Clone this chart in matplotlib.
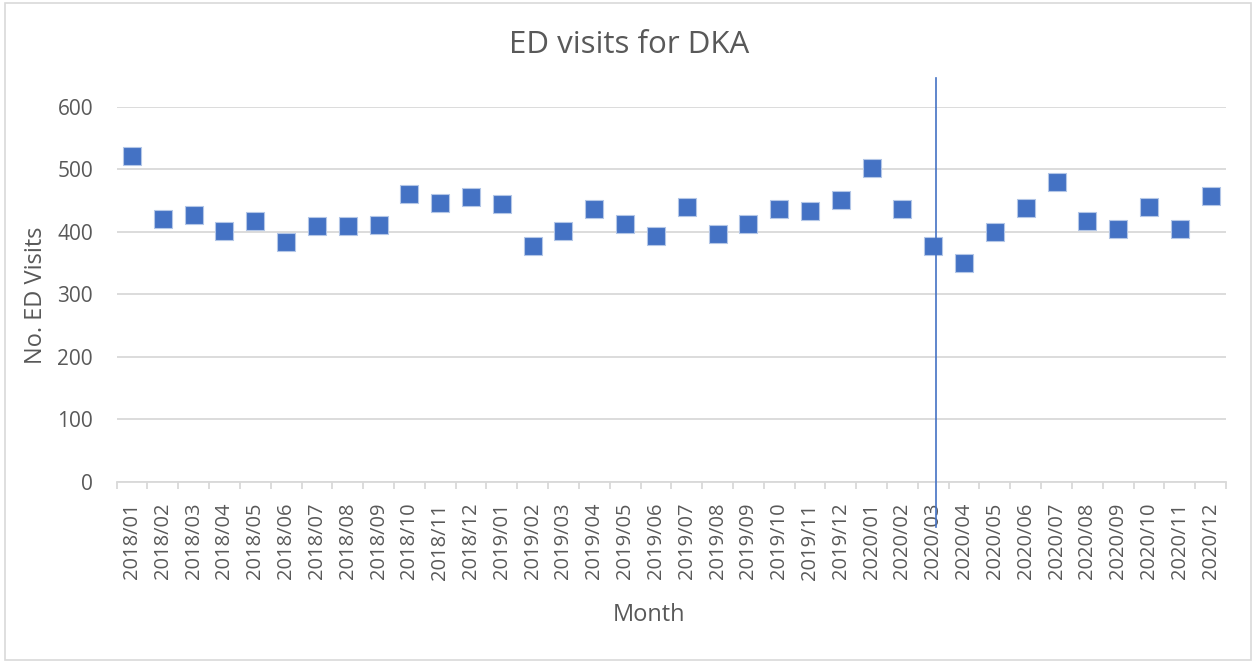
import numpy as np
import matplotlib
matplotlib.use('Agg')
import matplotlib.pyplot as plt
from matplotlib.patches import Rectangle

# data
months = ['2018/01', '2018/02', '2018/03', '2018/04', '2018/05', '2018/06',
          '2018/07', '2018/08', '2018/09', '2018/10', '2018/11', '2018/12',
          '2019/01', '2019/02', '2019/03', '2019/04', '2019/05', '2019/06',
          '2019/07', '2019/08', '2019/09', '2019/10', '2019/11', '2019/12',
          '2020/01', '2020/02', '2020/03', '2020/04', '2020/05', '2020/06',
          '2020/07', '2020/08', '2020/09', '2020/10', '2020/11', '2020/12']
visits = [521, 421, 427, 401, 418, 383, 410, 410, 411, 460, 446, 456,
          445, 378, 401, 437, 412, 394, 440, 396, 413, 436, 433, 451,
          502, 436, 378, 350, 399, 438, 479, 417, 405, 440, 405, 458]
yticks = [0, 100, 200, 300, 400, 500, 600]
cutoff = 26.1  # just after 2020/03

grey_txt = '#595959'
grid_col = '#d9d9d9'

plt.rcParams['font.family'] = ['Open Sans', 'DejaVu Sans']

fig = plt.figure(figsize=(12.54, 6.63), dpi=100)
ax = fig.add_axes([0.093, 0.273, 0.8847, 0.566])

x = np.arange(len(months))
ax.scatter(x, visits, marker='s', s=150, color='#4472C4',
           edgecolors='#b4c7e7', linewidths=0.8, zorder=3)

ax.set_xlim(-0.5, len(months) - 0.5)
ax.set_ylim(0, 600)
ax.set_yticks(yticks)
ax.grid(axis='y', color=grid_col, linewidth=1.3)
ax.set_axisbelow(True)

for s in ['top', 'right', 'left']:
    ax.spines[s].set_visible(False)
ax.spines['bottom'].set_color(grid_col)
ax.spines['bottom'].set_linewidth(1.3)

# category labels, tick marks between categories
ax.set_xticks(x)
ax.set_xticklabels(months, rotation=90, fontsize=14.5, color=grey_txt)
ax.tick_params(axis='x', length=0, pad=15)
ax.set_xticks(np.arange(-0.5, len(months)), minor=True)
ax.tick_params(axis='x', which='minor', length=5, color=grid_col, width=1.3)
ax.tick_params(axis='y', length=0, pad=17, labelsize=15, labelcolor=grey_txt)

# vertical marker line
ax.plot([cutoff, cutoff], [-0.12, 1.077], transform=ax.get_xaxis_transform(),
        color='#4472C4', linewidth=1.2, clip_on=False, zorder=4)

fig.text(0.5015, 0.932, 'ED visits for DKA', ha='center', va='center',
         fontsize=22.5, color=grey_txt)
fig.text(0.029, 0.555, 'No. ED Visits', rotation=90, ha='center', va='center',
         fontsize=17, color=grey_txt)
fig.text(0.5175, 0.072, 'Month', ha='center', va='center',
         fontsize=17, color=grey_txt)

# chart border
fig.patches.append(Rectangle((0.004, 0.004), 0.994, 0.991, transform=fig.transFigure,
                             fill=False, edgecolor=grid_col, linewidth=1.2))

fig.savefig('out.png', dpi=100)
